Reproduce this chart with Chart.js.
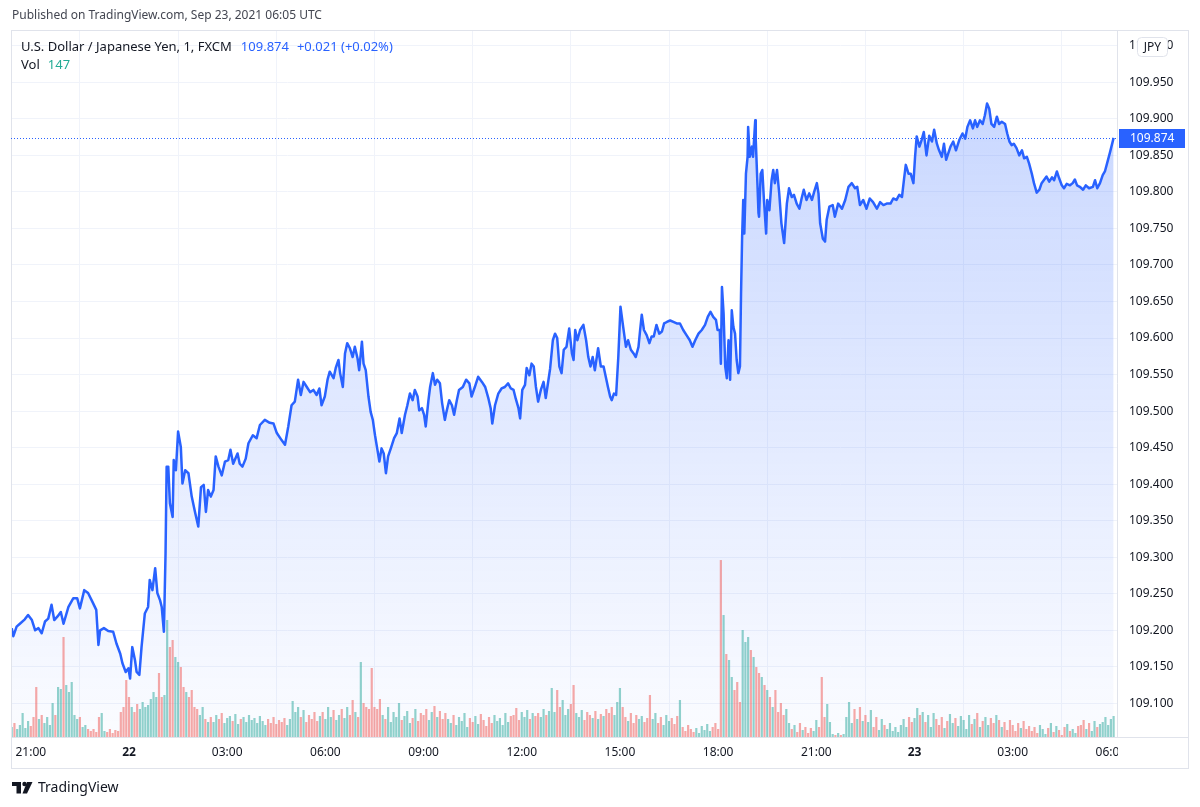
<!DOCTYPE html>
<html>
<head>
<meta charset="utf-8">
<title>USD/JPY 1m - FXCM</title>
<script src="https://cdn.jsdelivr.net/npm/chart.js@4.4.0/dist/chart.umd.min.js"></script>
<style>
  html, body { margin: 0; padding: 0; background: #fff; }
  #wrap { width: 1200px; height: 807px; }
</style>
</head>
<body>
<div id="wrap"><canvas id="chart" width="1200" height="807"></canvas></div>
<script>
/* time = minutes from Sep 22 2021 00:00 UTC (negative = Sep 21) */
var minutes = [
  -215, -212, -206, -200, -191, -185, -178, -172, -166, -160, -154, -148, -142, -137, -131, -125, -120, -111, -102, -95,
  -90, -82, -75, -67, -60, -56, -53, -46, -38, -29, -23, -16, -12, -6, -1, 2, 6, 11, 14, 19,
  23, 29, 35, 38, 43, 48, 52, 57, 60, 64, 67, 69, 72, 75, 80, 82, 86, 90, 95, 98,
  103, 109, 115, 121, 127, 132, 137, 141, 145, 150, 155, 159, 164, 170, 176, 182, 186, 191, 199, 203,
  208, 214, 219, 227, 234, 240, 249, 258, 265, 271, 280, 286, 292, 298, 304, 310, 315, 320, 326, 332,
  338, 344, 349, 353, 359, 364, 368, 375, 379, 384, 387, 392, 396, 400, 405, 410, 414, 419, 422, 427,
  430, 434, 439, 443, 447, 451, 455, 459, 463, 467, 471, 475, 480, 486, 491, 496, 500, 506, 510, 515,
  520, 524, 529, 532, 537, 541, 544, 549, 552, 557, 561, 565, 570, 574, 579, 582, 587, 592, 596, 601,
  605, 612, 618, 624, 628, 634, 640, 647, 653, 659, 663, 666, 671, 677, 683, 689, 695, 700, 705, 709,
  714, 717, 721, 726, 729, 734, 738, 742, 746, 750, 755, 760, 764, 769, 772, 777, 781, 785, 789, 793,
  797, 802, 807, 812, 815, 818, 822, 827, 833, 838, 842, 846, 850, 854, 860, 865, 870, 874, 878, 882,
  885, 889, 893, 897, 901, 906, 911, 915, 920, 925, 929, 934, 937, 940, 944, 949, 954, 958, 962, 967,
  972, 977, 981, 986, 992, 998, 1004, 1010, 1016, 1022, 1028, 1033, 1038, 1044, 1050, 1056, 1061, 1066, 1071, 1076,
  1079, 1083, 1085, 1087, 1090, 1093, 1096, 1099, 1102, 1105, 1108, 1111, 1114, 1117, 1120, 1122, 1124, 1126, 1128, 1131,
  1134, 1135, 1138, 1142, 1144, 1148, 1149, 1152, 1154, 1155, 1158, 1161, 1164, 1168, 1170, 1174, 1178, 1181, 1184, 1188,
  1192, 1196, 1201, 1206, 1210, 1215, 1219, 1224, 1229, 1233, 1237, 1242, 1247, 1252, 1256, 1261, 1264, 1267, 1272, 1276,
  1279, 1284, 1290, 1294, 1300, 1307, 1313, 1319, 1325, 1331, 1335, 1340, 1346, 1352, 1358, 1364, 1371, 1377, 1383, 1389,
  1396, 1401, 1407, 1412, 1417, 1421, 1424, 1429, 1433, 1438, 1441, 1444, 1449, 1453, 1457, 1462, 1467, 1472, 1476, 1481,
  1485, 1490, 1494, 1498, 1502, 1506, 1511, 1516, 1522, 1528, 1533, 1537, 1542, 1547, 1551, 1555, 1560, 1565, 1569, 1573,
  1577, 1581, 1586, 1591, 1595, 1600, 1606, 1610, 1614, 1618, 1622, 1627, 1632, 1637, 1641, 1646, 1650, 1655, 1659, 1664,
  1669, 1673, 1677, 1682, 1687, 1692, 1696, 1701, 1705, 1710, 1714, 1719, 1725, 1730, 1734, 1738, 1743, 1749, 1754, 1760,
  1767, 1771, 1775, 1780, 1785, 1789, 1793, 1798, 1805
];
var prices = [
  109.203, 109.192, 109.205, 109.209, 109.215, 109.221, 109.214, 109.200, 109.203, 109.196, 109.212, 109.216, 109.235, 109.214, 109.219, 109.225, 109.209, 109.232, 109.244, 109.244,
  109.230, 109.255, 109.251, 109.239, 109.228, 109.180, 109.200, 109.203, 109.199, 109.198, 109.182, 109.168, 109.155, 109.143, 109.148, 109.134, 109.177, 109.159, 109.143, 109.139,
  109.177, 109.223, 109.232, 109.269, 109.255, 109.285, 109.251, 109.241, 109.232, 109.198, 109.305, 109.424, 109.424, 109.374, 109.355, 109.433, 109.419, 109.472, 109.451, 109.401,
  109.419, 109.415, 109.383, 109.362, 109.342, 109.396, 109.399, 109.362, 109.392, 109.383, 109.392, 109.438, 109.424, 109.412, 109.431, 109.433, 109.447, 109.428, 109.442, 109.428,
  109.424, 109.435, 109.456, 109.467, 109.463, 109.481, 109.488, 109.484, 109.483, 109.470, 109.460, 109.454, 109.479, 109.508, 109.513, 109.543, 109.522, 109.540, 109.533, 109.526,
  109.529, 109.522, 109.531, 109.508, 109.520, 109.543, 109.554, 109.545, 109.559, 109.570, 109.552, 109.533, 109.579, 109.593, 109.586, 109.574, 109.588, 109.572, 109.556, 109.595,
  109.565, 109.556, 109.520, 109.499, 109.488, 109.467, 109.449, 109.431, 109.449, 109.442, 109.415, 109.438, 109.449, 109.463, 109.470, 109.490, 109.470, 109.495, 109.507, 109.524,
  109.515, 109.529, 109.520, 109.501, 109.504, 109.495, 109.479, 109.515, 109.533, 109.552, 109.536, 109.543, 109.538, 109.511, 109.488, 109.499, 109.515, 109.508, 109.495, 109.515,
  109.529, 109.533, 109.543, 109.538, 109.520, 109.533, 109.547, 109.540, 109.533, 109.517, 109.504, 109.483, 109.508, 109.524, 109.531, 109.533, 109.538, 109.531, 109.529, 109.517,
  109.504, 109.490, 109.529, 109.536, 109.559, 109.549, 109.565, 109.561, 109.533, 109.513, 109.529, 109.540, 109.518, 109.543, 109.558, 109.597, 109.606, 109.600, 109.561, 109.552,
  109.584, 109.588, 109.613, 109.579, 109.570, 109.611, 109.597, 109.611, 109.618, 109.597, 109.574, 109.561, 109.574, 109.556, 109.586, 109.561, 109.561, 109.547, 109.533, 109.520,
  109.515, 109.524, 109.522, 109.574, 109.643, 109.615, 109.588, 109.597, 109.584, 109.579, 109.574, 109.588, 109.611, 109.632, 109.611, 109.604, 109.593, 109.602, 109.602, 109.618,
  109.606, 109.609, 109.620, 109.622, 109.624, 109.622, 109.620, 109.620, 109.611, 109.604, 109.597, 109.588, 109.597, 109.606, 109.611, 109.618, 109.629, 109.636, 109.629, 109.625,
  109.611, 109.611, 109.565, 109.670, 109.634, 109.561, 109.545, 109.597, 109.543, 109.638, 109.615, 109.606, 109.570, 109.552, 109.561, 109.661, 109.739, 109.789, 109.743, 109.825,
  109.848, 109.889, 109.848, 109.862, 109.848, 109.898, 109.871, 109.812, 109.771, 109.766, 109.825, 109.830, 109.789, 109.743, 109.789, 109.775, 109.816, 109.830, 109.812, 109.830,
  109.798, 109.757, 109.730, 109.784, 109.805, 109.793, 109.796, 109.784, 109.777, 109.791, 109.803, 109.789, 109.798, 109.789, 109.800, 109.812, 109.798, 109.757, 109.736, 109.732,
  109.762, 109.780, 109.782, 109.766, 109.784, 109.777, 109.789, 109.807, 109.812, 109.805, 109.807, 109.782, 109.789, 109.777, 109.791, 109.786, 109.777, 109.786, 109.782, 109.784,
  109.784, 109.791, 109.789, 109.796, 109.793, 109.819, 109.837, 109.825, 109.825, 109.812, 109.848, 109.876, 109.862, 109.871, 109.882, 109.850, 109.877, 109.869, 109.885, 109.866,
  109.857, 109.848, 109.866, 109.844, 109.853, 109.862, 109.869, 109.857, 109.871, 109.880, 109.873, 109.889, 109.898, 109.887, 109.898, 109.889, 109.898, 109.893, 109.905, 109.921,
  109.914, 109.893, 109.889, 109.903, 109.893, 109.896, 109.893, 109.880, 109.869, 109.864, 109.866, 109.860, 109.850, 109.857, 109.846, 109.848, 109.839, 109.825, 109.812, 109.799,
  109.803, 109.812, 109.816, 109.821, 109.814, 109.820, 109.816, 109.828, 109.819, 109.809, 109.805, 109.811, 109.809, 109.812, 109.817, 109.809, 109.807, 109.803, 109.809, 109.805,
  109.807, 109.816, 109.805, 109.812, 109.823, 109.828, 109.839, 109.853, 109.874
];

/* volume, one bar per 5 minutes starting at volStart */
var volStart = -215;
var volStep = 5;
var volumes = [
  70, 98, 56, 84, 168, 63, 112, 77, 140, 350, 126, 154, 98, 140, 84, 238, 154,
  350, 336, 700, 364, 315, 385, 154, 126, 140, 70, 84, 56, 42, 56, 35, 140, 168,
  42, 35, 56, 28, 49, 42, 175, 210, 399, 280, 210, 175, 231, 196, 245, 210, 224,
  266, 315, 280, 448, 280, 294, 819, 630, 679, 560, 525, 490, 350, 315, 280, 329, 210,
  196, 154, 210, 126, 105,
  140, 105, 154, 126, 168, 98, 133, 147, 112, 161, 91, 126, 140, 105, 154, 119, 133, 98, 147,
  112, 84, 126, 98, 140, 91, 119, 105, 133, 84, 126, 252, 175, 210,
  140, 189, 105, 154, 126, 175, 112, 147, 175, 126, 210, 140, 189, 119, 154, 196, 133,
  210, 154, 259, 175, 140, 525, 238, 210, 196, 483, 210, 196, 266,
  154, 126, 210, 105, 175, 140, 238, 119, 147, 182, 98, 133, 196, 112, 168,
  154, 196, 119, 175, 217, 140, 182, 126, 168,
  126, 98, 154, 84, 140, 112, 168, 70, 133, 105, 147, 91, 161, 119, 77, 140, 98, 154, 112, 133, 84, 168, 105, 147,
  154, 203, 119, 175, 140, 189, 126, 168, 147, 168, 140, 196, 154, 182, 343, 175, 329,
  210, 259, 154, 196, 231, 364, 168, 140, 189, 119, 175, 154, 133, 182, 126, 161, 147,
  196, 168, 210, 154, 245, 343, 210, 140, 112, 168, 98, 154, 126, 147, 105, 133, 294,
  126, 168, 98, 140, 84, 154, 112, 133, 91, 147, 259,
  70, 42, 84, 56, 35, 63, 28, 77, 49, 91, 42, 70, 98, 56,
  1239, 854, 581, 539, 420, 329, 385, 245, 749, 665, 700, 609, 560, 490, 448, 420, 364, 329, 280, 210, 329, 175, 238, 154, 196, 98,
  56, 84, 35, 98, 49, 70, 28, 63, 42, 119, 70, 420, 140, 231, 105, 21, 14, 28, 14, 21,
  140, 245, 98, 196, 126, 210, 112, 154, 105, 189, 70, 140, 49, 126, 84, 56, 98, 42, 70, 35,
  84, 126, 70, 140, 105, 133, 203, 154, 175,
  105, 154, 70, 168, 126, 84, 140, 63, 112, 161, 98, 133, 77, 147, 119, 56, 154, 91, 126, 168, 70, 112, 140, 84, 133, 98, 154, 119,
  70, 105, 49, 119, 84, 42, 98, 63, 112, 56, 77,
  42, 70, 28, 84, 56, 21, 63, 98, 35, 77, 49, 14, 70, 91, 42, 56, 28, 77,
  84, 119, 56, 98, 42, 112, 70, 91, 105, 140, 84, 126, 147
];

/* axis ticks */
var timeTicks = [-180, 0, 180, 360, 540, 720, 900, 1080, 1260, 1440, 1620, 1800];
var priceTicks = [109.100, 109.150, 109.200, 109.250, 109.300, 109.350, 109.400, 109.450, 109.500,
  109.550, 109.600, 109.650, 109.700, 109.750, 109.800, 109.850, 109.900, 109.950, 110.000];

var FONT = "'Noto Sans', 'DejaVu Sans', sans-serif";
var TEXT = '#131722';
var BLUE = '#2962ff';
var GRID = '#f0f3fa';
var EDGE = '#e0e3eb';

Chart.defaults.font.family = FONT;
Chart.defaults.color = TEXT;

var pricePoints = minutes.map(function (m, i) { return { x: m, y: prices[i] }; });

function priceAt(t) {
  if (t <= minutes[0]) return prices[0];
  for (var i = 1; i < minutes.length; i++) {
    if (t <= minutes[i]) {
      var f = (t - minutes[i - 1]) / (minutes[i] - minutes[i - 1]);
      return prices[i - 1] + f * (prices[i] - prices[i - 1]);
    }
  }
  return prices[prices.length - 1];
}

var volPoints = volumes.map(function (v, i) { return { x: volStart + i * volStep, y: v }; });
var volColors = volPoints.map(function (p) {
  return priceAt(p.x) >= priceAt(p.x - volStep) ? 'rgba(38,166,154,0.5)' : 'rgba(239,83,80,0.5)';
});

function timeLabel(v) {
  if (v % 1440 === 0) return String(22 + v / 1440);
  var h = ((v / 60) % 24 + 24) % 24;
  return (h < 10 ? '0' : '') + h + ':00';
}

var decor = {
  id: 'decor',
  afterDraw: function (chart) {
    var c = chart.ctx, a = chart.chartArea;
    c.save();

    // the last time label is cut off by the price scale
    c.fillStyle = '#fff';
    c.fillRect(a.right + 1, a.bottom + 1, 1188 - a.right - 1, 768 - a.bottom - 1);

    // pane frame and separators
    c.strokeStyle = EDGE;
    c.lineWidth = 1;
    c.strokeRect(11.5, 30.5, 1177, 738);
    c.beginPath();
    c.moveTo(11, a.bottom + 0.5); c.lineTo(1188, a.bottom + 0.5);
    c.moveTo(a.right + 0.5, 30); c.lineTo(a.right + 0.5, a.bottom);
    c.stroke();

    // last price line + label
    var last = prices[prices.length - 1];
    var py = Math.round(chart.scales.y.getPixelForValue(last)) + 0.5;
    c.strokeStyle = BLUE;
    c.setLineDash([1, 2]);
    c.beginPath(); c.moveTo(a.left, py); c.lineTo(a.right, py); c.stroke();
    c.setLineDash([]);
    c.fillStyle = BLUE;
    c.fillRect(a.right + 2, py - 9.5, 66, 19);
    c.fillStyle = '#fff';
    c.font = '12px ' + FONT;
    c.textBaseline = 'middle';
    c.textAlign = 'left';
    c.fillText(last.toFixed(3), 1130, py);

    // currency badge
    c.fillStyle = '#fff';
    c.strokeStyle = EDGE;
    c.beginPath();
    c.roundRect(1137.5, 37.5, 30, 19, 4);
    c.fill(); c.stroke();
    c.fillStyle = TEXT;
    c.textAlign = 'center';
    c.fillText('JPY', 1152.5, 47.5);

    // header
    c.textAlign = 'left';
    c.fillStyle = '#434651';
    c.font = '12px ' + FONT;
    c.fillText('Published on TradingView.com, Sep 23, 2021 06:05 UTC', 12, 16);

    // legend
    c.font = '13px ' + FONT;
    c.fillStyle = TEXT;
    var title = 'U.S. Dollar / Japanese Yen, 1, FXCM';
    c.fillText(title, 21, 47);
    var x = 21 + c.measureText(title).width + 9;
    c.fillStyle = BLUE;
    c.fillText(last.toFixed(3), x, 47);
    x += c.measureText(last.toFixed(3)).width + 8;
    c.fillText('+0.021 (+0.02%)', x, 47);
    c.fillStyle = TEXT;
    c.fillText('Vol', 21, 65);
    c.fillStyle = '#22ab94';
    c.fillText(String(volumes[volumes.length - 1]), 21 + c.measureText('Vol').width + 8, 65);

    // footer logo
    c.fillStyle = TEXT;
    c.fillRect(12, 782, 9, 4);
    c.fillRect(16.5, 782, 4.5, 11.5);
    c.beginPath(); c.arc(24.5, 784, 2.2, 0, Math.PI * 2); c.fill();
    c.beginPath();
    c.moveTo(27, 782); c.lineTo(32.5, 782); c.lineTo(27, 793.5); c.lineTo(22.5, 793.5);
    c.closePath(); c.fill();
    c.font = '14px ' + FONT;
    c.fillText('TradingView', 38, 788);

    c.restore();
  }
};

var ctx = document.getElementById('chart').getContext('2d');
var chart = new Chart(ctx, {
  type: 'line',
  data: {
    datasets: [{
      type: 'line',
      data: pricePoints,
      yAxisID: 'y',
      borderColor: BLUE,
      borderWidth: 2.5,
      borderJoinStyle: 'round',
      pointRadius: 0,
      tension: 0,
      fill: 'start',
      backgroundColor: function (context) {
        var a = context.chart.chartArea;
        if (!a) return 'rgba(41,98,255,0.1)';
        var g = context.chart.ctx.createLinearGradient(0, a.top, 0, a.bottom);
        g.addColorStop(0, 'rgba(41,98,255,0.28)');
        g.addColorStop(1, 'rgba(41,98,255,0.02)');
        return g;
      },
      order: 1
    }, {
      type: 'bar',
      data: volPoints,
      yAxisID: 'yv',
      backgroundColor: volColors,
      barPercentage: 0.8,
      categoryPercentage: 1,
      grouped: false,
      order: 2
    }]
  },
  options: {
    responsive: false,
    animation: false,
    layout: { padding: { left: 11, top: 30, right: 12, bottom: 39 } },
    plugins: {
      legend: { display: false },
      tooltip: { enabled: false },
      filler: { drawTime: 'beforeDatasetsDraw' }
    },
    scales: {
      x: {
        type: 'linear',
        position: 'bottom',
        min: -216.3,
        max: 1811.2,
        offset: false,
        afterBuildTicks: function (s) { s.ticks = timeTicks.map(function (v) { return { value: v }; }); },
        afterFit: function (s) { s.height = 31; },
        grid: { color: GRID, drawTicks: false },
        border: { display: false },
        ticks: {
          autoSkip: false,
          maxRotation: 0,
          padding: 8,
          color: TEXT,
          font: function (c) {
            return { size: 12, weight: c.tick && c.tick.value % 1440 === 0 ? 'bold' : 'normal' };
          },
          callback: function (v) { return timeLabel(v); }
        }
      },
      y: {
        type: 'linear',
        position: 'right',
        min: 109.054,
        max: 110.0216,
        afterBuildTicks: function (s) { s.ticks = priceTicks.map(function (v) { return { value: v }; }); },
        afterFit: function (s) { s.width = 71; },
        grid: { color: GRID, drawTicks: false },
        border: { display: false },
        ticks: {
          padding: 12,
          color: TEXT,
          font: { size: 12 },
          callback: function (v) { return Number(v).toFixed(3); }
        }
      },
      yv: {
        type: 'linear',
        display: false,
        min: 0,
        max: 4950
      }
    }
  },
  plugins: [decor]
});
</script>
</body>
</html>
